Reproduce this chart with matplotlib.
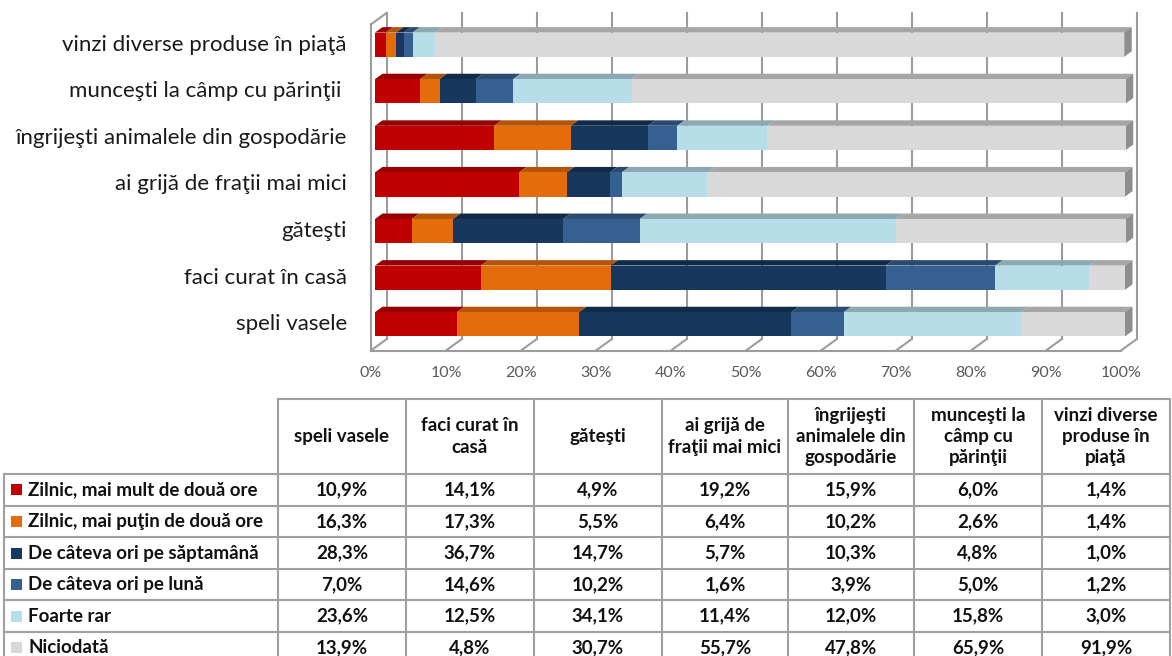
import matplotlib.pyplot as plt
from matplotlib.patches import Polygon

plt.rcParams['font.family'] = ['Lato', 'DejaVu Sans']

# --- data ---
categories = ["speli vasele", "faci curat în casă", "găteşti",
              "ai grijă de fraţii mai mici", "îngrijeşti animalele din gospodărie",
              "munceşti la câmp cu părinţii ", "vinzi diverse produse în piaţă"]
table_headers = ["speli vasele", "faci curat în\ncasă", "găteşti",
                 "ai grijă de\nfraţii mai mici", "îngrijeşti\nanimalele din\ngospodărie",
                 "munceşti la\ncâmp cu\npărinţii", "vinzi diverse\nproduse în\npiaţă"]
series_names = ["Zilnic, mai mult de două ore", "Zilnic, mai puţin de două ore",
                "De câteva ori pe săptamână", "De câteva ori pe lună",
                "Foarte rar", "Niciodată"]
zilnic_peste2 = [10.9, 14.1, 4.9, 19.2, 15.9, 6.0, 1.4]
zilnic_sub2 = [16.3, 17.3, 5.5, 6.4, 10.2, 2.6, 1.4]
saptamana = [28.3, 36.7, 14.7, 5.7, 10.3, 4.8, 1.0]
luna = [7.0, 14.6, 10.2, 1.6, 3.9, 5.0, 1.2]
foarte_rar = [23.6, 12.5, 34.1, 11.4, 12.0, 15.8, 3.0]
niciodata = [13.9, 4.8, 30.7, 55.7, 47.8, 65.9, 91.9]
series = [zilnic_peste2, zilnic_sub2, saptamana, luna, foarte_rar, niciodata]
x_ticks = list(range(0, 101, 10))

front_colors = ["#C00000", "#E46C0A", "#17375E", "#376092", "#B7DEE8", "#D9D9D9"]
top_colors = ["#960000", "#B35408", "#112A48", "#2A4A70", "#8CA9B1", "#A6A6A6"]
side_color = "#8E8E8E"
grid_color = "#9C9C9C"

W, H = 1172, 656
fig = plt.figure(figsize=(W / 100, H / 100), dpi=100)

# chart axes: front plane, 0% at x=371px, 100% at x=1121px
ax = fig.add_axes([371 / W, (H - 350.5) / H, 750 / W, 326.2 / H])
ax.set_xlim(0, 100)
ax.set_ylim(-0.5, 6.5)
ax.axis('off')

px_x = 750 / 100      # pixels per percent
px_y = 326.2 / 7      # pixels per category
depth = (15.7 / px_x, 11.4 / px_y)     # floor depth in data units
f1, f2 = 0.255, 0.733                    # bar front / back depth fraction
bx1, by1 = depth[0] * f1, depth[1] * f1
bdx, bdy = depth[0] * (f2 - f1), depth[1] * (f2 - f1)
bar_h = 0.52
y0, y1 = ax.get_ylim()

# back wall gridlines
for t in x_ticks:
    ax.plot([t + depth[0]] * 2, [y0 + depth[1], y1 + depth[1]], color=grid_color,
            lw=1.5, clip_on=False, zorder=1)
# floor
ax.plot([0, 100], [y0, y0], color=grid_color, lw=1.5, clip_on=False, zorder=1)
for t in x_ticks:
    ax.plot([t, t + depth[0]], [y0, y0 + depth[1]], color=grid_color, lw=1.5,
            clip_on=False, zorder=1)
# left wall
ax.plot([0, 0], [y0, y1], color=grid_color, lw=1.5, clip_on=False, zorder=1)
ax.plot([0, depth[0]], [y1, y1 + depth[1]], color=grid_color, lw=1.5, clip_on=False, zorder=1)

# bars
for i in range(len(categories)):
    yc = i + by1
    left = bx1
    for s, vals in enumerate(series):
        w = vals[i]
        ax.barh(yc, w, left=left, height=bar_h, color=front_colors[s], lw=0, zorder=3,
                clip_on=False)
        top = yc + bar_h / 2
        ax.add_patch(Polygon([(left, top), (left + w, top), (left + w + bdx, top + bdy),
                              (left + bdx, top + bdy)], closed=True, facecolor=top_colors[s],
                             lw=0, zorder=2, clip_on=False))
        left += w
    bot = yc - bar_h / 2
    top = yc + bar_h / 2
    ax.add_patch(Polygon([(left, bot), (left, top), (left + bdx, top + bdy), (left + bdx, bot + bdy)],
                         closed=True, facecolor=side_color, lw=0, zorder=2, clip_on=False))
    ax.text(-3.2, yc, categories[i], ha='right', va='center', fontsize=16, color="#1a1a1a")

for t in x_ticks:
    ax.text(t, y0 - 22.5 / px_y, f"{t}%", ha='center', va='center', fontsize=11.5,
            color="#595959")

# --- data table (pixel coordinates) ---
tax = fig.add_axes([0, 0, 1, 1])
tax.set_xlim(0, W)
tax.set_ylim(H, 0)
tax.axis('off')

col_edges = [278, 406, 534, 662, 788, 914, 1042, 1170]
head_top, head_bot = 399, 474
row_h = 31.6
row_edges = [head_bot + row_h * k for k in range(len(series) + 1)]
lbl_left = 4
tc = "#A0A0A0"

tax.plot([col_edges[0], col_edges[-1]], [head_top, head_top], color=tc, lw=1.5)
for x in col_edges:
    tax.plot([x, x], [head_top, row_edges[-1]], color=tc, lw=1.5)
tax.plot([lbl_left, lbl_left], [head_bot, row_edges[-1]], color=tc, lw=1.5)
for y in row_edges:
    tax.plot([lbl_left, col_edges[-1]], [y, y], color=tc, lw=1.5)

for j, hdr in enumerate(table_headers):
    xc = (col_edges[j] + col_edges[j + 1]) / 2
    tax.text(xc, (head_top + head_bot) / 2, hdr, ha='center', va='center', fontsize=13.5,
             fontweight='bold', color="#111111", linespacing=1.3)

for s, vals in enumerate(series):
    yc = (row_edges[s] + row_edges[s + 1]) / 2
    tax.add_patch(plt.Rectangle((11, yc - 5.5), 11, 11, facecolor=front_colors[s], lw=0))
    tax.text(28, yc, series_names[s], ha='left', va='center', fontsize=13.5,
             fontweight='bold', color="#111111")
    for j, v in enumerate(vals):
        xc = (col_edges[j] + col_edges[j + 1]) / 2
        tax.text(xc, yc, f"{v:.1f}%".replace('.', ','), ha='center', va='center',
                 fontsize=13.5, fontweight='bold', color="#111111")

fig.savefig("out.png", dpi=100)
